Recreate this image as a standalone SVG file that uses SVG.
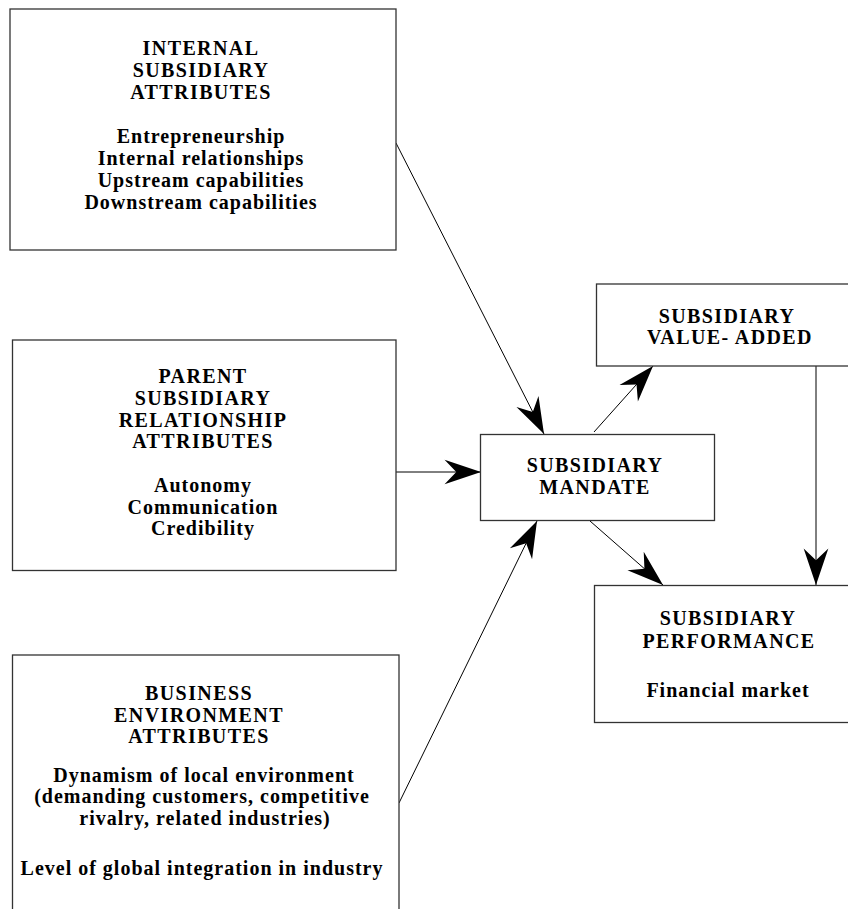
<svg xmlns="http://www.w3.org/2000/svg" width="848" height="909" viewBox="0 0 848 909">
<style>
.box{fill:#fff;stroke:#333;stroke-width:1.3}
text{font-family:'Liberation Serif','Times New Roman',serif;font-weight:bold;font-size:20px;text-anchor:middle;fill:#000}
.h{letter-spacing:1.4px}
.b{letter-spacing:1px}
.c{stroke:#000;stroke-width:1;fill:none;marker-end:url(#ah)}
</style>
<defs>
<marker id="ah" markerUnits="userSpaceOnUse" orient="auto" markerWidth="40" markerHeight="30" viewBox="-32 -12 34 24" refX="0" refY="0">
<path d="M0,0 L-31,-10.5 L-21,0 L-31,10.5 Z" fill="#000"/>
</marker>
</defs>
<rect width="848" height="909" fill="#fff"/>
<g id="connectors">
<line class="c" x1="396" y1="143" x2="544" y2="434"/>
<line class="c" x1="396" y1="472" x2="481" y2="472"/>
<line class="c" x1="399" y1="803" x2="537" y2="521"/>
<line class="c" x1="594" y1="432" x2="653" y2="366"/>
<line class="c" x1="590" y1="521" x2="663" y2="585"/>
<line class="c" x1="816" y1="366" x2="816" y2="585"/>
</g>
<g id="internal">
<rect class="box" x="10" y="9" width="386" height="241"/>
<text class="h" x="201" y="55">INTERNAL</text>
<text class="h" x="201" y="77">SUBSIDIARY</text>
<text class="h" x="201" y="99">ATTRIBUTES</text>
<text class="b" x="201" y="143">Entrepreneurship</text>
<text class="b" x="201" y="165">Internal relationships</text>
<text class="b" x="201" y="187">Upstream capabilities</text>
<text class="b" x="201" y="209">Downstream capabilities</text>
</g>
<g id="parent">
<rect class="box" x="12.5" y="340" width="383.5" height="230.5"/>
<text class="h" x="203" y="383">PARENT</text>
<text class="h" x="203" y="405">SUBSIDIARY</text>
<text class="h" x="203" y="427">RELATIONSHIP</text>
<text class="h" x="203" y="448">ATTRIBUTES</text>
<text class="b" x="203" y="492">Autonomy</text>
<text class="b" x="203" y="514">Communication</text>
<text class="b" x="203" y="535">Credibility</text>
</g>
<g id="business">
<rect class="box" x="12.5" y="655" width="386.5" height="270"/>
<text class="h" x="199" y="700">BUSINESS</text>
<text class="h" x="199" y="722">ENVIRONMENT</text>
<text class="h" x="199" y="743">ATTRIBUTES</text>
<text class="b" x="204" y="782">Dynamism of local environment</text>
<text class="b" x="202" y="803">(demanding customers, competitive</text>
<text class="b" x="205" y="825">rivalry, related industries)</text>
<text class="b" x="202" y="875">Level of global integration in industry</text>
</g>
<g id="mandate">
<rect class="box" x="480.5" y="434.5" width="234" height="86"/>
<text class="h" x="595" y="472">SUBSIDIARY</text>
<text class="h" x="595" y="494">MANDATE</text>
</g>
<g id="valueadded">
<rect class="box" x="596.5" y="284" width="260" height="82"/>
<text class="h" x="727" y="323">SUBSIDIARY</text>
<text class="h" x="730" y="344">VALUE- ADDED</text>
</g>
<g id="performance">
<rect class="box" x="594.5" y="585.5" width="260" height="137"/>
<text class="h" x="728" y="625">SUBSIDIARY</text>
<text class="h" x="729" y="648">PERFORMANCE</text>
<text class="b" x="728" y="697">Financial market</text>
</g>
</svg>
